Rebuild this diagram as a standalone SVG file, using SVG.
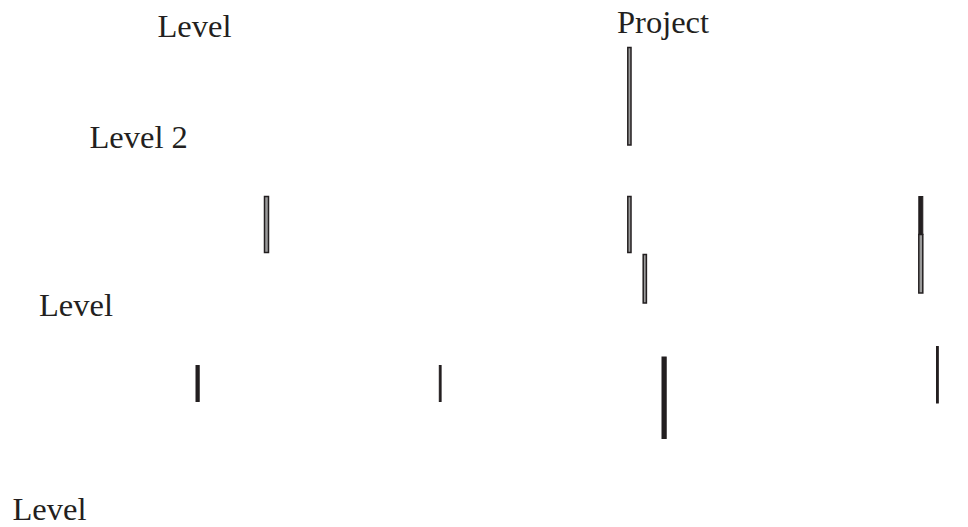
<svg xmlns="http://www.w3.org/2000/svg" width="968" height="527" viewBox="0 0 968 527">
<style>
.t{font-family:"Liberation Serif","Times New Roman",serif;font-size:32.5px;fill:#231f20}
.b{fill:#9a9a9a;stroke:#231f20;stroke-width:1.5}
.f{fill:#231f20;stroke:#231f20;stroke-width:1}
</style>
<rect width="968" height="527" fill="#fff"/>
<g id="labels">
<text class="t" x="157.5" y="37">Level</text>
<text class="t" x="617" y="33">Project</text>
<text class="t" x="89.5" y="148">Level 2</text>
<text class="t" x="39" y="316">Level</text>
<text class="t" x="12.5" y="519.5">Level</text>
</g>
<g id="connectors">
<rect class="b" x="627.8" y="47.5" width="3.2" height="97.5"/>
<rect class="b" x="627.8" y="196.5" width="3.2" height="56"/>
<rect class="b" x="643.2" y="254.5" width="3.2" height="48.5"/>
<rect class="f" x="918.8" y="196.5" width="4" height="38"/>
<rect class="b" x="918.8" y="234.5" width="4" height="58.5"/>
<rect class="b" x="264.5" y="196.5" width="4" height="56"/>
<rect class="f" x="196" y="365.5" width="3.2" height="36"/>
<rect class="f" x="439.3" y="365.5" width="1.8" height="36"/>
<rect class="f" x="662" y="357" width="4.2" height="81.5"/>
<rect class="f" x="936.5" y="346.5" width="1.8" height="56.5"/>
</g>
</svg>
